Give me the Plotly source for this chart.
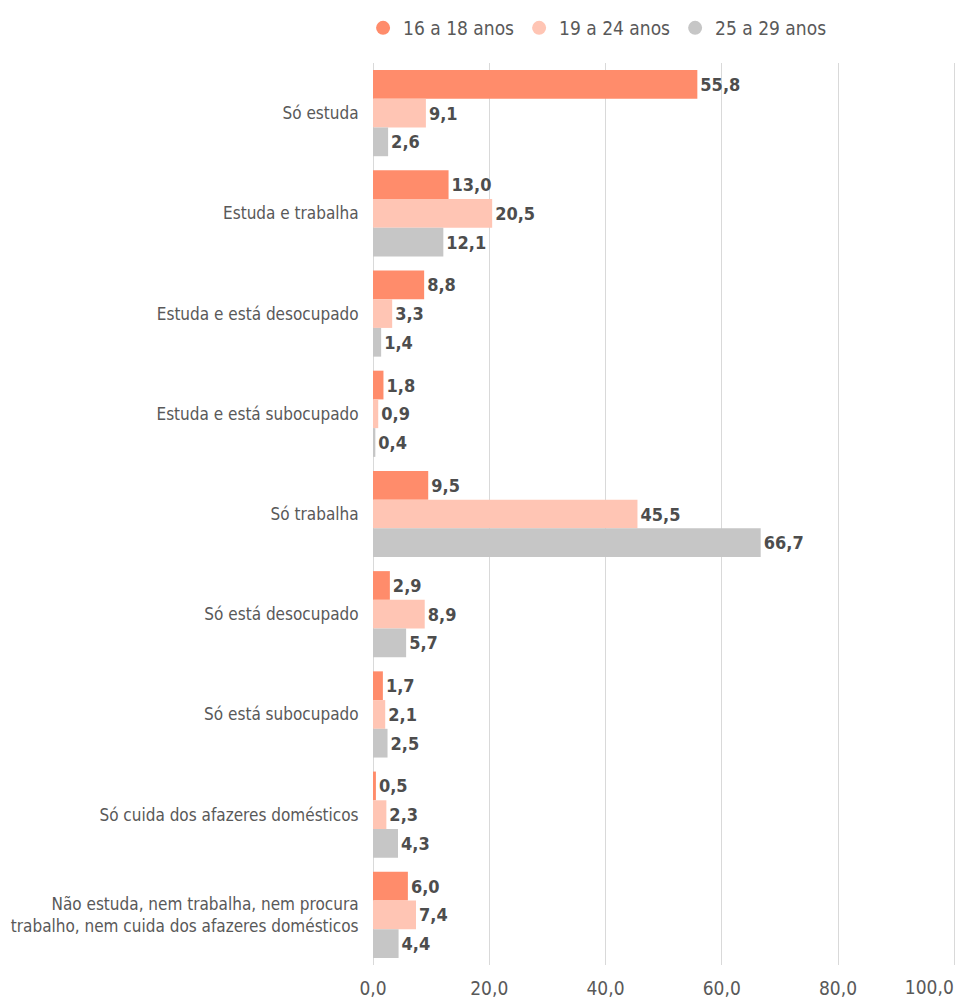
import plotly.graph_objects as go

categories = [
    "Só estuda",
    "Estuda e trabalha",
    "Estuda e está desocupado",
    "Estuda e está subocupado",
    "Só trabalha",
    "Só está desocupado",
    "Só está subocupado",
    "Só cuida dos afazeres domésticos",
    "Não estuda, nem trabalha, nem procura<br>trabalho, nem cuida dos afazeres domésticos",
]
series_names = ["16 a 18 anos", "19 a 24 anos", "25 a 29 anos"]
v16_18 = [55.8, 13.0, 8.8, 1.8, 9.5, 2.9, 1.7, 0.5, 6.0]
v19_24 = [9.1, 20.5, 3.3, 0.9, 45.5, 8.9, 2.1, 2.3, 7.4]
v25_29 = [2.6, 12.1, 1.4, 0.4, 66.7, 5.7, 2.5, 4.3, 4.4]
colors = ["#FF8C6B", "#FFC5B4", "#C6C6C6"]
tick_vals = [0, 20, 40, 60, 80, 100]
tick_text = [f"{v:.1f}".replace(".", ",") for v in tick_vals]

FONT = "DejaVu Sans Condensed, sans-serif"
X_RANGE = [0, 100.3]

fig = go.Figure()
for name, vals, col in zip(series_names, [v16_18, v19_24, v25_29], colors):
    fig.add_trace(go.Bar(
        y=categories, x=vals, orientation="h", name=name,
        marker=dict(color=col, line=dict(width=0)),
        texttemplate="%{x:.1f}", textposition="outside", cliponaxis=False,
        textfont=dict(family=FONT, size=18, color="#4D4D4D", weight="bold"),
        showlegend=False, hoverinfo="skip",
    ))
# legend entries with circle markers
for name, col in zip(series_names, colors):
    fig.add_trace(go.Scatter(
        x=[None], y=[None], mode="markers", name=name,
        marker=dict(symbol="circle", size=14, color=col),
        showlegend=True,
    ))
# empty trace so the overlay axis (carrying the last tick label) is drawn
fig.add_trace(go.Scatter(x=[None], y=[None], xaxis="x2", yaxis="y",
                         mode="markers", showlegend=False, hoverinfo="skip"))

tick_font = dict(size=19, color="#595959")
fig.update_layout(
    width=958, height=999,
    barmode="group", bargap=0.14, bargroupgap=0,
    separators=",.",
    paper_bgcolor="white", plot_bgcolor="white",
    margin=dict(l=373, r=2, t=63, b=34, autoexpand=False),
    font=dict(family=FONT, size=18, color="#595959"),
    legend=dict(orientation="h", x=-0.017, xanchor="left", xref="paper",
                y=1 - 28 / 999, yref="container", yanchor="middle",
                font=dict(size=19, color="#595959"),
                itemwidth=30, tracegroupgap=0),
    xaxis=dict(range=X_RANGE, tickvals=tick_vals,
               ticktext=tick_text[:-1] + [""],
               showgrid=True, gridcolor="#D9D9D9", gridwidth=1,
               zeroline=True, zerolinecolor="#D9D9D9", zerolinewidth=1,
               ticks="outside", ticklen=6, tickcolor="rgba(0,0,0,0)",
               automargin=False, tickfont=tick_font, fixedrange=True),
    # last tick label is right-aligned at its tick, as in the original
    xaxis2=dict(range=X_RANGE, overlaying="x", side="bottom", anchor="y",
                tickvals=tick_vals[-1:], ticktext=tick_text[-1:],
                ticklabelposition="outside left", ticklabelstandoff=5,
                showgrid=False, zeroline=False, showline=False,
                ticks="outside", ticklen=6, tickcolor="rgba(0,0,0,0)",
                automargin=False, tickfont=tick_font, fixedrange=True),
    yaxis=dict(autorange="reversed", showgrid=False, zeroline=False,
               ticks="outside", ticklen=10, tickcolor="rgba(0,0,0,0)",
               automargin=False,
               tickfont=dict(size=17, color="#595959"), fixedrange=True),
)

fig.write_html("out.html")
